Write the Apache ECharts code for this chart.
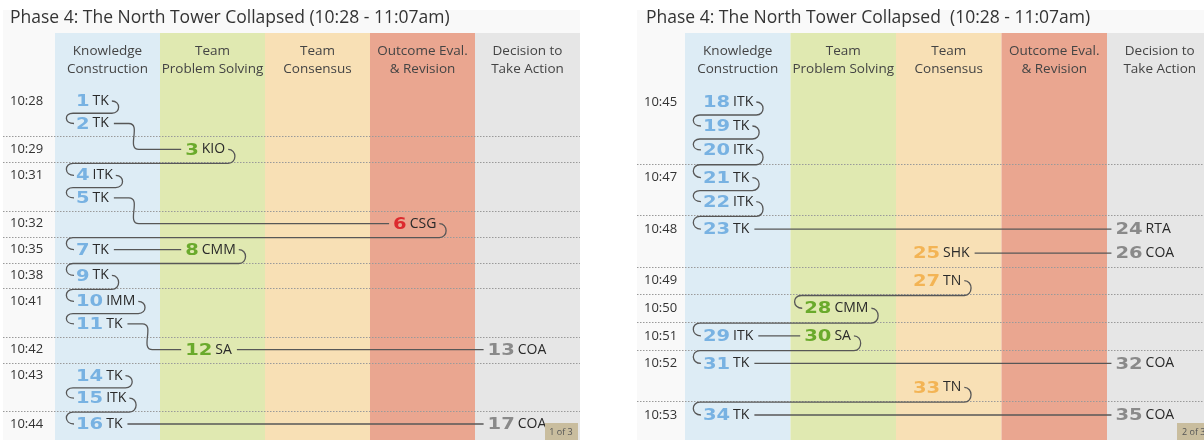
<!DOCTYPE html>
<html>
<head>
<meta charset="utf-8">
<script src="https://cdn.jsdelivr.net/npm/echarts@6/dist/echarts.min.js"></script>
<style>
  html, body { margin: 0; padding: 0; background: #fff; }
  #main { width: 1204px; height: 440px; }
</style>
</head>
<body>
<div id="main"></div>
<script>
// stages (columns)
var stageNames = ['Knowledge\nConstruction', 'Team\nProblem Solving', 'Team\nConsensus', 'Outcome Eval.\n& Revision', 'Decision to\nTake Action'];
var stageFill = ['#ddecf5', '#e0e9b1', '#f8e0b5', '#eaa690', '#e6e6e6'];
var stageNumColor = ['#78b2e2', '#6aaa2c', '#f3b455', '#dc2a2e', '#8a8a8a'];

// page 1 of 3
var p1Nums = [1, 2, 3, 4, 5, 6, 7, 8, 9, 10, 11, 12, 13, 14, 15, 16, 17];
var p1Codes = ['TK', 'TK', 'KIO', 'ITK', 'TK', 'CSG', 'TK', 'CMM', 'TK', 'IMM', 'TK', 'SA', 'COA', 'TK', 'ITK', 'TK', 'COA'];
var p1Stages = [0, 0, 1, 0, 0, 3, 0, 1, 0, 0, 0, 1, 4, 0, 0, 0, 4];
var p1Times = ['10:28', '10:28', '10:29', '10:31', '10:31', '10:32', '10:35', '10:35', '10:38', '10:41', '10:41', '10:42', '10:42', '10:43', '10:43', '10:44', '10:44'];

// page 2 of 3
var p2Nums = [18, 19, 20, 21, 22, 23, 24, 25, 26, 27, 28, 29, 30, 31, 32, 33, 34, 35];
var p2Codes = ['ITK', 'TK', 'ITK', 'TK', 'ITK', 'TK', 'RTA', 'SHK', 'COA', 'TN', 'CMM', 'ITK', 'SA', 'TK', 'COA', 'TN', 'TK', 'COA'];
var p2Stages = [0, 0, 0, 0, 0, 0, 4, 2, 4, 2, 1, 0, 1, 0, 4, 2, 0, 4];
var p2Times = ['10:45', '10:45', '10:45', '10:47', '10:47', '10:48', '10:48', '10:48', '10:48', '10:49', '10:50', '10:51', '10:51', '10:52', '10:52', '10:52', '10:53', '10:53'];

var NUM_FONT = 'bold 16px "DejaVu Sans"';
var NUM_SCALE = 1.22;
var CODE_FONT = '14px "Open Sans"';
var TXT_FONT = '13px "Open Sans"';
var GROUP_GAP = 0.15;

var mctx = document.createElement('canvas').getContext('2d');
function textW(s, font) { mctx.font = font; return mctx.measureText(s).width; }

// one row per event, unless it follows on in the same minute in a later stage
function buildPanel(nums, codes, stg, times, indent) {
  var events = [], row = -1, grp = -1;
  for (var i = 0; i < nums.length; i++) {
    var newGroup = i === 0 || times[i] !== times[i - 1];
    var sameRow = !newGroup && stg[i] > stg[i - 1];
    if (newGroup) grp++;
    if (!sameRow) row++;
    events.push({ num: nums[i], code: codes[i], stage: stg[i], time: times[i],
      grp: grp, slot: row + grp * GROUP_GAP, showTime: newGroup, x: stg[i] + indent[stg[i]] });
  }
  var links = [], dividers = [];
  for (var j = 0; j < events.length - 1; j++) {
    if (events[j].stage !== 4) links.push(j);
    if (events[j + 1].grp !== events[j].grp) dividers.push((events[j].slot + events[j + 1].slot) / 2);
  }
  return { events: events, links: links, dividers: dividers, lastSlot: events[events.length - 1].slot };
}

var pages = [
  buildPanel(p1Nums, p1Codes, p1Stages, p1Times, [0.2, 0.24, 0.2, 0.22, 0.12]),
  buildPanel(p2Nums, p2Codes, p2Stages, p2Times, [0.17, 0.13, 0.16, 0.2, 0.08])
];

// layout: grid box, pixel of stage 0 start + column width, pixel of first/last row
var frames = [
  { left: 3, width: 577, col0: 55, colW: 105, firstY: 101, lastY: 424 },
  { left: 637, width: 567, col0: 685, colW: 105.5, firstY: 102, lastY: 415 }
];
var TOP = 33, BOTTOM = 440;

var grids = [], xAxes = [], yAxes = [], series = [];

function labelEnd(p, ev) {
  return p[0] + textW(String(ev.num), NUM_FONT) * NUM_SCALE + 3 + textW(ev.code, CODE_FONT);
}

pages.forEach(function (pg, gi) {
  var f = frames[gi];
  var yUnit = (f.lastY - f.firstY) / pg.lastSlot;
  var xMin = (f.left - f.col0) / f.colW, xMax = (f.left + f.width - f.col0) / f.colW;
  var yMin = (TOP - f.firstY) / yUnit, yMax = (BOTTOM - f.firstY) / yUnit;
  grids.push({ left: f.left, top: TOP, width: f.width, height: BOTTOM - TOP });
  xAxes.push({ type: 'value', gridIndex: gi, min: xMin, max: xMax, show: false });
  yAxes.push({ type: 'value', gridIndex: gi, min: yMin, max: yMax, inverse: true, show: false });

  // stage columns + headers
  series.push({
    type: 'custom', xAxisIndex: gi, yAxisIndex: gi, z: 1, silent: true,
    data: stageNames.map(function (n, i) { return [i]; }),
    renderItem: function (params, api) {
      var i = api.value(0);
      var a = api.coord([i, yMin]), b = api.coord([i + 1, yMax]);
      var cs = params.coordSys;
      var rect = echarts.graphic.clipRectByRect(
        { x: a[0], y: a[1], width: b[0] - a[0], height: b[1] - a[1] },
        { x: cs.x, y: cs.y, width: cs.width, height: cs.height });
      var c = api.coord([i + 0.5, yMin]);
      return { type: 'group', children: [
        { type: 'rect', shape: rect, style: { fill: stageFill[i] } },
        { type: 'text', x: c[0], y: cs.y + 27, style: { text: stageNames[i], font: '13.5px "Open Sans"',
          fill: '#444', align: 'center', verticalAlign: 'middle', lineHeight: 18 } }
      ] };
    }
  });

  // dotted minute dividers
  series.push({
    type: 'custom', xAxisIndex: gi, yAxisIndex: gi, z: 2, silent: true,
    data: pg.dividers.map(function (s) { return [0, s]; }),
    renderItem: function (params, api) {
      var y = Math.round(api.coord([0, api.value(1)])[1]) + 0.5;
      var cs = params.coordSys;
      return { type: 'line', shape: { x1: cs.x, y1: y, x2: cs.x + cs.width, y2: y },
        style: { stroke: '#9a9a9a', lineWidth: 1, lineDash: [1.5, 1.5] } };
    }
  });

  // time labels
  series.push({
    type: 'custom', xAxisIndex: gi, yAxisIndex: gi, z: 4, silent: true,
    data: pg.events.map(function (e, i) { return [0, e.slot, i]; }).filter(function (d) { return pg.events[d[2]].showTime; }),
    renderItem: function (params, api) {
      var ev = pg.events[api.value(2)];
      var y = api.coord([0, api.value(1)])[1];
      return { type: 'text', x: params.coordSys.x + 7, y: y,
        style: { text: ev.time, font: TXT_FONT, fill: '#333', align: 'left', verticalAlign: 'middle' } };
    }
  });

  // connectors between consecutive events
  series.push({
    type: 'custom', xAxisIndex: gi, yAxisIndex: gi, z: 3, silent: true,
    data: pg.links.map(function (i) { return [pg.events[i].x, pg.events[i].slot, i]; }),
    renderItem: function (params, api) {
      var i = api.value(2), a = pg.events[i], b = pg.events[i + 1];
      var p0 = api.coord([a.x, a.slot]), p1 = api.coord([b.x, b.slot]);
      var e0 = labelEnd(p0, a), s1 = p1[0], y0 = p0[1], y1 = p1[1], d;
      if (Math.abs(y1 - y0) < 1) {
        d = 'M' + (e0 + 5) + ' ' + y0 + 'L' + (s1 - 4) + ' ' + y1;
      } else if (s1 > e0 + 30) {
        var x1 = e0 + 20;
        d = 'M' + (e0 + 5) + ' ' + y0 + 'L' + x1 + ' ' + y0 +
          'C' + (x1 + 13) + ' ' + y0 + ' ' + (x1 - 3) + ' ' + y1 + ' ' + (x1 + 10) + ' ' + y1 +
          'L' + (s1 - 4) + ' ' + y1;
      } else {
        var ym = (y0 + y1) / 2 + 1, x0 = e0 + 3, xl = s1 - 3;
        d = 'M' + x0 + ' ' + y0 + 'C' + (x0 + 9) + ' ' + y0 + ' ' + (x0 + 9) + ' ' + ym + ' ' + x0 + ' ' + ym +
          'L' + xl + ' ' + ym + 'C' + (xl - 9) + ' ' + ym + ' ' + (xl - 9) + ' ' + y1 + ' ' + (xl + 1) + ' ' + y1;
      }
      return { type: 'path', shape: { pathData: d },
        style: { stroke: '#575757', lineWidth: 1.3, fill: null } };
    }
  });

  // numbered events
  series.push({
    type: 'custom', xAxisIndex: gi, yAxisIndex: gi, z: 5, silent: true,
    data: pg.events.map(function (e, i) { return [e.x, e.slot, i]; }),
    renderItem: function (params, api) {
      var ev = pg.events[api.value(2)];
      var p = api.coord([api.value(0), api.value(1)]);
      var nw = textW(String(ev.num), NUM_FONT) * NUM_SCALE;
      return { type: 'group', children: [
        { type: 'text', x: p[0], y: p[1] + 1, scaleX: NUM_SCALE,
          style: { text: String(ev.num), font: NUM_FONT, fill: stageNumColor[ev.stage], align: 'left', verticalAlign: 'middle' } },
        { type: 'text', x: p[0] + nw + 3, y: p[1],
          style: { text: ev.code, font: CODE_FONT, fill: '#2a2a2a', align: 'left', verticalAlign: 'middle' } }
      ] };
    }
  });
});

var titleStyle = { fontFamily: 'Open Sans', fontSize: 17.5, fontWeight: 'normal', color: '#333' };

var chart = echarts.init(document.getElementById('main'));
chart.setOption({
  animation: false,
  backgroundColor: '#fff',
  title: [
    { text: 'Phase 4: The North Tower Collapsed (10:28 - 11:07am)', left: 10, top: 9, padding: 0, textStyle: titleStyle },
    { text: 'Phase 4: The North Tower Collapsed  (10:28 - 11:07am)', left: 646, top: 9, padding: 0, textStyle: titleStyle }
  ],
  graphic: [
    { type: 'rect', z: -10, shape: { x: 3, y: 10, width: 577, height: 430 }, style: { fill: '#f9f9f9' } },
    { type: 'rect', z: -10, shape: { x: 637, y: 10, width: 567, height: 430 }, style: { fill: '#f9f9f9' } },
    { type: 'rect', z: 100, shape: { x: 545, y: 423, width: 33, height: 17 }, style: { fill: '#c9bd9e' } },
    { type: 'text', z: 101, x: 561, y: 432, style: { text: '1 of 3', font: '9px "Open Sans"', fill: '#555', align: 'center', verticalAlign: 'middle' } },
    { type: 'rect', z: 100, shape: { x: 1177, y: 423, width: 30, height: 17 }, style: { fill: '#c9bd9e' } },
    { type: 'text', z: 101, x: 1182, y: 432, style: { text: '2 of 3', font: '9px "Open Sans"', fill: '#555', align: 'left', verticalAlign: 'middle' } }
  ],
  grid: grids,
  xAxis: xAxes,
  yAxis: yAxes,
  series: series
});
</script>
</body>
</html>
